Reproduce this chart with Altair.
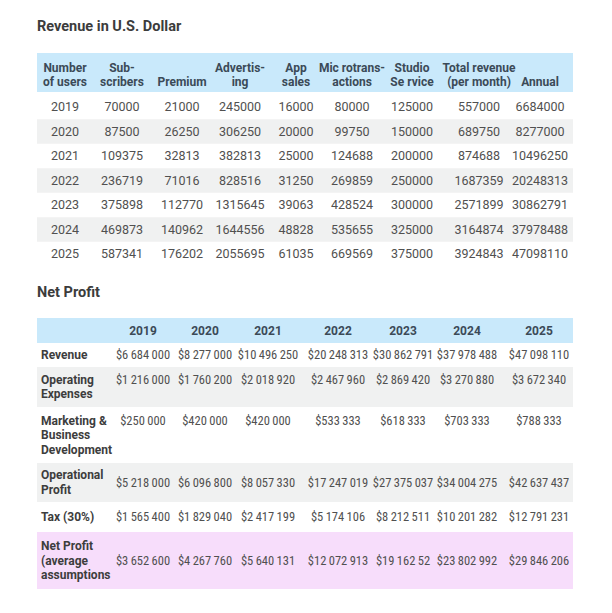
import altair as alt
import pandas as pd

# ---------------- data ----------------
years = [2019, 2020, 2021, 2022, 2023, 2024, 2025]
subscribers = [70000, 87500, 109375, 236719, 375898, 469873, 587341]
premium = [21000, 26250, 32813, 71016, 112770, 140962, 176202]
advertising = [245000, 306250, 382813, 828516, 1315645, 1644556, 2055695]
app_sales = [16000, 20000, 25000, 31250, 39063, 48828, 61035]
microtransactions = [80000, 99750, 124688, 269859, 428524, 535655, 669569]
studio_service = [125000, 150000, 200000, 250000, 300000, 325000, 375000]
total_per_month = [557000, 689750, 874688, 1687359, 2571899, 3164874, 3924843]
annual = [6684000, 8277000, 10496250, 20248313, 30862791, 37978488, 47098110]

rev_head_top = ["Number", "Sub-", "", "Advertis-", "App", "Mic rotrans-", "Studio", "Total  revenue", ""]
rev_head_bot = ["of users", "scribers", "Premium", "ing", "sales", "actions", "Se rvice", "(per month)", "Annual"]

revenue = [6684000, 8277000, 10496250, 20248313, 30862791, 37978488, 47098110]
operating_expenses = [1216000, 1760200, 2018920, 2467960, 2869420, 3270880, 3672340]
marketing = [250000, 420000, 420000, 533333, 618333, 703333, 788333]
operational_profit = [5218000, 6096800, 8057330, 17247019, 27375037, 34004275, 42637437]
tax = [1565400, 1829040, 2417199, 5174106, 8212511, 10201282, 12791231]
net_profit = [3652600, 4267760, 5640131, 12072913, 19162526, 23802992, 29846206]
# the reference prints this cell truncated
net_profit_2023_as_printed = "$19\u2009162\u200952"

profit_labels = [
    ["Revenue"],
    ["Operating", "Expenses"],
    ["Marketing &", "Business", "Development"],
    ["Operational", "Profit"],
    ["Tax (30%)"],
    ["Net Profit", "(average", "assumptions"],
]
profit_values = [revenue, operating_expenses, marketing, operational_profit, tax, net_profit]

# ---------------- layout (page pixels) ----------------
LEFT, RIGHT = 37, 573
BLUE, GREY, PINK, WHITE = "#c9e9fb", "#f0f1f1", "#f7ddfb", "#ffffff"

t1_cols = [65, 122, 182, 240, 296, 352, 412, 479, 540]
t1_head = (53, 92)
t1_head_lines = [68, 82]
t1_row0, t1_pitch = 107, 24.5

t2_cols = [143, 205, 268, 338, 403, 467, 539]
t2_head = (318, 343)
t2_bounds = [343, 367, 407, 463, 502, 532, 589]
t2_fill = [WHITE, GREY, WHITE, GREY, WHITE, PINK]
t2_valign = ["top", "top", "top", "middle", "top", "middle"]
line_h = 14.5


def money(v):
    return "$" + f"{v:,}".replace(",", "\u2009")


bands, head_txt, val_txt, lab_txt, val2_txt = [], [], [], [], []

# table 1
bands.append(dict(x1=LEFT, x2=RIGHT, y1=t1_head[0], y2=t1_head[1], fill=BLUE))
for c, (a, b) in enumerate(zip(rev_head_top, rev_head_bot)):
    if a:
        head_txt.append(dict(x=t1_cols[c], y=t1_head_lines[0], t=a))
    head_txt.append(dict(x=t1_cols[c], y=t1_head_lines[1], t=b))
series = [years, subscribers, premium, advertising, app_sales, microtransactions,
          studio_service, total_per_month, annual]
for i in range(len(years)):
    yc = t1_row0 + i * t1_pitch
    if i % 2 == 1:
        bands.append(dict(x1=LEFT, x2=RIGHT, y1=yc - t1_pitch / 2, y2=yc + t1_pitch / 2, fill=GREY))
    for c, s in enumerate(series):
        val_txt.append(dict(x=t1_cols[c], y=yc, t=str(s[i])))

# table 2
bands.append(dict(x1=LEFT, x2=RIGHT, y1=t2_head[0], y2=t2_head[1], fill=BLUE))
for c, yr in enumerate(years):
    head_txt.append(dict(x=t2_cols[c], y=(t2_head[0] + t2_head[1]) / 2, t=str(yr)))
for r, (lab, vals) in enumerate(zip(profit_labels, profit_values)):
    top, bot = t2_bounds[r], t2_bounds[r + 1]
    bands.append(dict(x1=LEFT, x2=RIGHT, y1=top, y2=bot, fill=t2_fill[r]))
    n = len(lab)
    mid = (top + bot) / 2
    first = mid - (n - 1) * line_h / 2
    for k, line in enumerate(lab):
        lab_txt.append(dict(x=LEFT + 4, y=first + k * line_h, t=line))
    vy = first if t2_valign[r] == "top" else mid
    for c, v in enumerate(vals):
        t = money(v)
        if vals is net_profit and years[c] == 2023:
            t = net_profit_2023_as_printed
        val2_txt.append(dict(x=t2_cols[c], y=vy, t=t))

titles = pd.DataFrame([dict(x=LEFT, y=27, t="Revenue in U.S. Dollar"),
                       dict(x=LEFT, y=293, t="Net Profit")])

xs = alt.Scale(domain=[8, 604], range=[0, 596], zero=False, nice=False)
ys = alt.Scale(domain=[8, 605], range=[0, 597], zero=False, nice=False)
X = lambda f: alt.X(f, scale=xs, axis=None)
Y = lambda f: alt.Y(f, scale=ys, axis=None)

band_layer = alt.Chart(pd.DataFrame(bands)).mark_rect().encode(
    x=X("x1:Q"), x2="x2:Q", y=Y("y1:Q"), y2="y2:Q",
    color=alt.Color("fill:N", scale=None))

FONT = "Roboto"
NARROW = "Liberation Sans Narrow, Roboto Condensed, Roboto"

head_layer = alt.Chart(pd.DataFrame(head_txt)).mark_text(
    font=FONT, fontSize=12, fontWeight="bold", color="#3b4a57", baseline="middle"
).encode(x=X("x:Q"), y=Y("y:Q"), text="t:N")

val_layer = alt.Chart(pd.DataFrame(val_txt)).mark_text(
    font=FONT, fontSize=12.5, color="#505050", baseline="middle"
).encode(x=X("x:Q"), y=Y("y:Q"), text="t:N")

lab_layer = alt.Chart(pd.DataFrame(lab_txt)).mark_text(
    font=FONT, fontSize=12, fontWeight="bold", color="#3d3d3d", baseline="middle", align="left"
).encode(x=X("x:Q"), y=Y("y:Q"), text="t:N")

val2_layer = alt.Chart(pd.DataFrame(val2_txt)).mark_text(
    font=NARROW, fontSize=12.5, color="#505050", baseline="middle"
).encode(x=X("x:Q"), y=Y("y:Q"), text="t:N")

title_layer = alt.Chart(titles).mark_text(
    font=FONT, fontSize=14.5, fontWeight="bold", color="#3c3c3c", baseline="middle", align="left"
).encode(x=X("x:Q"), y=Y("y:Q"), text="t:N")

chart = alt.layer(band_layer, head_layer, val_layer, lab_layer, val2_layer, title_layer).properties(
    width=596, height=597, autosize=alt.AutoSizeParams(type="none"), padding=0
).configure_view(stroke=None)

chart.save("out.html", embed_options={"renderer": "svg", "actions": False})
